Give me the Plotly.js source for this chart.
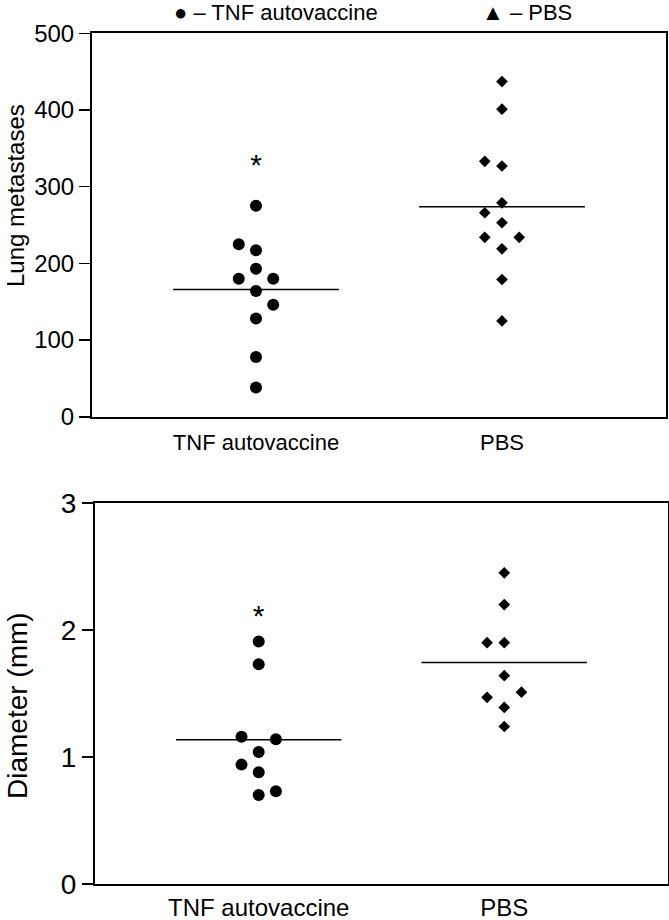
<!DOCTYPE html>
<html>
<head>
<meta charset="utf-8">
<script src="https://cdn.plot.ly/plotly-3.0.1.min.js"></script>
<style>
  html, body { margin: 0; padding: 0; background: #fff; }
  #chart { width: 669px; height: 920px; }
</style>
</head>
<body>
<div id="chart"></div>
<script>
const groups = ['TNF autovaccine', 'PBS'];

// top panel - lung metastases per mouse (col = side-by-side slot in the dot column)
const metTnf = [275, 225, 217, 193, 180, 180, 164, 146, 128, 78, 38];
const metTnfCol = [0, -1, 0, 0, -1, 1, 0, 1, 0, 0, 0];
const metPbs = [437, 401, 333, 327, 279, 266, 253, 234, 234, 219, 179, 125];
const metPbsCol = [0, 0, -1, 0, 0, -1, 0, -1, 1, 0, 0, 0];
const metStar = [325];

// bottom panel - diameter of metastases (mm)
const diaTnf = [1.91, 1.73, 1.16, 1.14, 1.04, 0.94, 0.88, 0.73, 0.70];
const diaTnfCol = [0, 0, -1, 1, 0, -1, 0, 1, 0];
const diaPbs = [2.45, 2.2, 1.9, 1.9, 1.64, 1.51, 1.47, 1.39, 1.24];
const diaPbsCol = [0, 0, -1, 0, 0, 1, -1, 0, 0];
const diaStar = [2.09];

const step = 0.07;     // horizontal spacing of neighbouring dots
const half = 0.337;    // half length of the mean bar
const font = 'Liberation Sans, Arial, Helvetica, sans-serif';

const mean = a => a.reduce((s, v) => s + v, 0) / a.length;
const xs = (g, cols) => cols.map(c => g + c * step);

function panel(tnf, tnfCol, pbs, pbsCol, star, xa, ya) {
    return [
        { x: xs(1, tnfCol), y: tnf, xaxis: xa, yaxis: ya, type: 'scatter', mode: 'markers',
          marker: { symbol: 'circle', size: 12, color: '#000' } },
        { x: xs(2, pbsCol), y: pbs, xaxis: xa, yaxis: ya, type: 'scatter', mode: 'markers',
          marker: { symbol: 'diamond', size: 9, color: '#000' } },
        { x: [1 - half, 1 + half], y: [mean(tnf), mean(tnf)], xaxis: xa, yaxis: ya,
          type: 'scatter', mode: 'lines', line: { color: '#000', width: 1.5 } },
        { x: [2 - half, 2 + half], y: [mean(pbs), mean(pbs)], xaxis: xa, yaxis: ya,
          type: 'scatter', mode: 'lines', line: { color: '#000', width: 1.5 } },
        { x: [1], y: star, xaxis: xa, yaxis: ya, type: 'scatter', mode: 'text', text: ['*'],
          textposition: 'middle center', textfont: { family: font, size: 30, color: '#000' } }
    ];
}

const data = panel(metTnf, metTnfCol, metPbs, metPbsCol, metStar, 'x', 'y')
    .concat(panel(diaTnf, diaTnfCol, diaPbs, diaPbsCol, diaStar, 'x2', 'y2'));

const xBase = {
    range: [1 / 3, 8 / 3], tickvals: [1, 2], ticktext: groups, ticks: '',
    showline: true, mirror: true, linewidth: 2, linecolor: '#000',
    showgrid: false, zeroline: false, fixedrange: true
};
const yBase = {
    ticks: 'outside', ticklen: 11, tickwidth: 1.5, tickcolor: '#000',
    showline: true, mirror: true, linewidth: 2, linecolor: '#000',
    showgrid: false, zeroline: false, fixedrange: true
};

const layout = {
    width: 669, height: 920,
    margin: { l: 0, r: 0, t: 0, b: 0 },
    paper_bgcolor: '#fff', plot_bgcolor: '#fff',
    showlegend: false,
    font: { family: font, color: '#000' },
    xaxis: Object.assign({}, xBase, { domain: [0.1375, 0.9955], anchor: 'y', tickfont: { size: 22 },
        ticklabelstandoff: 5 }),
    yaxis: Object.assign({}, yBase, { domain: [0.547, 0.9638], anchor: 'x', range: [0, 500], dtick: 100,
        tickfont: { size: 24 } }),
    xaxis2: Object.assign({}, xBase, { domain: [0.142, 0.9985], anchor: 'y2', tickfont: { size: 24 },
        ticklabelstandoff: 1 }),
    yaxis2: Object.assign({}, yBase, { domain: [0.0391, 0.4533], anchor: 'x2', range: [0, 3], dtick: 1,
        tickfont: { size: 28 } }),
    annotations: [
        { text: 'Lung metastases', textangle: -90, xref: 'paper', yref: 'paper',
          x: 15 / 669, y: 1 - 196 / 920, xanchor: 'center', yanchor: 'middle', showarrow: false,
          font: { size: 24 } },
        { text: 'Diameter (mm)', textangle: -90, xref: 'paper', yref: 'paper',
          x: 17 / 669, y: 1 - 706 / 920, xanchor: 'center', yanchor: 'middle', showarrow: false,
          font: { size: 28 } },
        { text: '\u25CF \u2013 TNF autovaccine', xref: 'paper', yref: 'paper',
          x: 172 / 669, y: 1 - 12 / 920, xanchor: 'left', yanchor: 'middle', showarrow: false,
          font: { size: 22 } },
        { text: '\u25B2 \u2013 PBS', xref: 'paper', yref: 'paper',
          x: 480 / 669, y: 1 - 12 / 920, xanchor: 'left', yanchor: 'middle', showarrow: false,
          font: { size: 22 } }
    ]
};

Plotly.newPlot('chart', data, layout, { staticPlot: true });
</script>
</body>
</html>
